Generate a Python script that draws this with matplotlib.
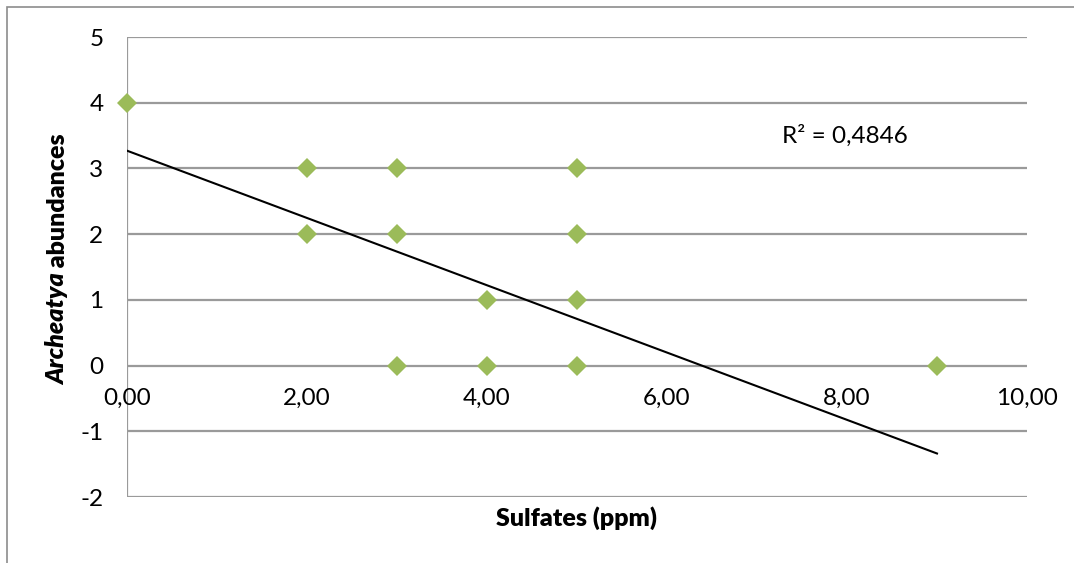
import numpy as np
import matplotlib.pyplot as plt
from matplotlib.patches import Rectangle

plt.rcParams['font.family'] = ['Lato', 'DejaVu Sans']

# Sulfate concentration vs Archeatya abundance
sulfates = [0, 2, 2, 3, 3, 3, 4, 4, 5, 5, 5, 5, 9]
abundance = [4, 3, 2, 3, 2, 0, 1, 0, 3, 2, 1, 0, 0]

# linear trendline (Excel) and its R²
trend_intercept = 3.27
trend_slope = -0.512
r_squared = 0.4846

x_ticks = [0, 2, 4, 6, 8, 10]
y_ticks = [-2, -1, 0, 1, 2, 3, 4, 5]

W, H = 1074, 563
fig = plt.figure(figsize=(W / 100, H / 100), dpi=100)
ax = fig.add_axes([127 / W, 1 - 497 / H, 900 / W, 460 / H])

grid_col = '#9a9a9a'
for yv in y_ticks:
    ax.axhline(yv, color=grid_col, lw=1.6, zorder=1)
ax.axvline(0, color=grid_col, lw=1.6, zorder=1)

# trendline over the range of the data
xs = np.array([min(sulfates), max(sulfates)])
ax.plot(xs, trend_intercept + trend_slope * xs, color='black', lw=1.5, zorder=2)

ax.plot(sulfates, abundance, linestyle='none', marker='D', ms=10.5,
        color='#9bbb59', mew=0, zorder=3, clip_on=False)

ax.set_xlim(0, 10)
ax.set_ylim(-2, 5)
for s in ax.spines.values():
    s.set_visible(False)
ax.set_xticks([])
ax.set_yticks(y_ticks)
ax.set_yticklabels([str(v) for v in y_ticks], fontsize=17.5)
ax.tick_params(axis='y', length=0, pad=17)

# x tick labels sit just below the zero line
for xv in x_ticks:
    ax.text(xv, -0.5, f'{xv:.2f}'.replace('.', ','), ha='center', va='center',
            fontsize=17.5)

ax.text(7.28, 3.5, f'R² = {r_squared:.4f}'.replace('.', ','), ha='left',
        va='center', fontsize=17.5)

fig.text(577 / W, 1 - 518 / H, 'Sulfates (ppm)', ha='center', va='center',
         fontsize=18, fontweight='heavy')

# y label: italic genus name followed by bold text
t1 = fig.text(58 / W, 1 - 385 / H, 'Archeatya', rotation=90, ha='center',
              va='bottom', fontsize=18, fontweight='heavy', fontstyle='italic')
ax.annotate(' abundances', xy=(0.5, 1), xycoords=t1, rotation=90, ha='center',
            va='bottom', fontsize=18, fontweight='heavy', annotation_clip=False)

# outer chart frame
fig.patches.append(Rectangle((7 / W, -0.1), 1.2, 1 - 7 / H + 0.1,
                             transform=fig.transFigure, fill=False,
                             edgecolor='#8c8c8c', lw=1.2))

fig.savefig('out.png', dpi=100)
